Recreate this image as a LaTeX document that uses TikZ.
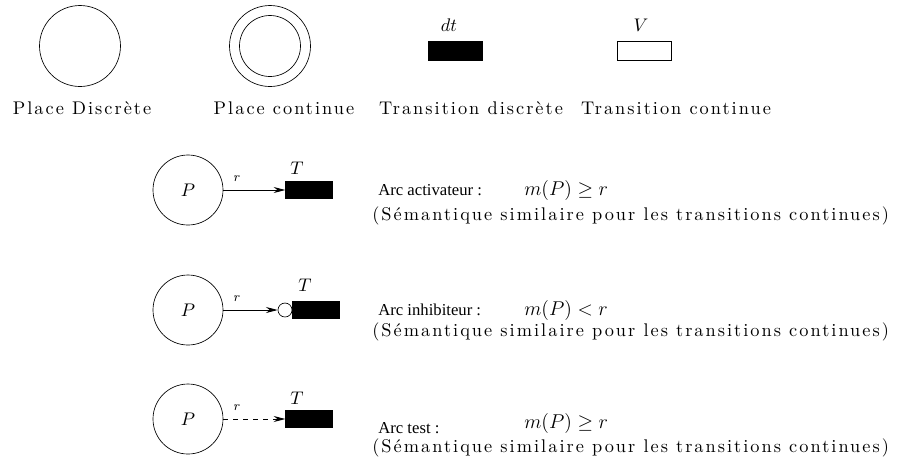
\documentclass[tikz,border=0pt]{standalone}
\usepackage{fontspec}
\usetikzlibrary{arrows.meta}
\newfontfamily\arcfont{Liberation Serif}
\newfontfamily\legendfont{lmroman10-regular}[Extension=.otf,LetterSpace=11]

\begin{document}
\begin{tikzpicture}[x=0.6pt,y=-0.6pt]
\tikzset{
  place/.style={circle,draw,minimum size=48.6pt,inner sep=0pt},
  smallplace/.style={circle,draw,minimum size=42pt,inner sep=0pt,font=\fontsize{11}{13}\selectfont},
  transition/.style={rectangle,draw,fill=black,minimum width=28pt,minimum height=10pt,inner sep=0pt},
  legend/.style={font=\legendfont\fontsize{11}{13}\selectfont,inner sep=0pt,anchor=base},
  arcname/.style={font=\arcfont\fontsize{10}{12}\selectfont,inner sep=0pt,anchor=base west},
  formula/.style={font=\fontsize{11.5}{13}\selectfont,inner sep=0pt,anchor=base west},
  mathlabel/.style={font=\fontsize{11}{13}\selectfont,inner sep=0pt},
  weight/.style={font=\fontsize{8}{10}\selectfont,inner sep=0pt},
  arcline/.style={-{Stealth[length=7pt,width=3.6pt]},line width=0.5pt}
}
\useasboundingbox (0,0) rectangle (903,471);

\node[place] (n_pd) at (80,46) {};
\node[place] (n_pc) at (270,46) {};
\node[circle,draw,minimum size=36.6pt,inner sep=0pt] (n_pc_in) at (n_pc) {};
\node[transition,minimum width=32.4pt,minimum height=11.4pt] (n_td) at (455,51) {};
\node[transition,fill=white,minimum width=32.4pt,minimum height=11.4pt] (n_tc) at (644,51) {};
\node[mathlabel] (l_dt) at (449,25) {$dt$};
\node[mathlabel] (l_v) at (641,25) {$V$};
\node[legend] (l_pd) at (82,114) {Place Discrète};
\node[legend] (l_pc) at (284,114) {Place continue};
\node[legend] (l_td) at (471,114) {Transition discrète};
\node[legend] (l_tc) at (676,114) {Transition continue};

\node[smallplace] (n_p_1) at (188,190) {$P$};
\node[transition] (n_t_1) at (309,190) {};
\node[mathlabel] (l_t_1) at (297,168) {$T$};
\draw[arcline] (n_p_1) -- node[weight,pos=0.22,above=5pt] {$r$} (n_t_1);

\node[smallplace] (n_p_2) at (188,310) {$P$};
\node[transition] (n_t_2) at (316,310) {};
\node[circle,draw,fill=white,minimum size=8.4pt,inner sep=0pt,anchor=east] (n_inh) at (n_t_2.west) {};
\node[mathlabel] (l_t_2) at (305,285) {$T$};
\draw[arcline] (n_p_2) -- node[weight,pos=0.25,above=5pt] {$r$} (n_inh);

\node[smallplace] (n_p_3) at (188,419) {$P$};
\node[transition] (n_t_3) at (309,419) {};
\node[mathlabel] (l_t_3) at (297,398) {$T$};
\draw[arcline,dashed] (n_p_3) -- node[weight,pos=0.22,above=5pt] {$r$} (n_t_3);

\node[arcname] (l_act) at (378,195) {Arc activateur :};
\node[formula] (f_act) at (524,195) {$m(P)\geq r$};
\node[legend,anchor=base west] (s_act) at (372,220) {(Sémantique similaire pour les transitions continues)};
\node[arcname] (l_inh) at (378,315) {Arc inhibiteur :};
\node[formula] (f_inh) at (524,315) {$m(P)<r$};
\node[legend,anchor=base west] (s_inh) at (372,336) {(Sémantique similaire pour les transitions continues)};
\node[arcname] (l_test) at (378,433) {Arc test :};
\node[formula] (f_test) at (524,428) {$m(P)\geq r$};
\node[legend,anchor=base west] (s_test) at (372,452) {(Sémantique similaire pour les transitions continues)};
\end{tikzpicture}
\end{document}
